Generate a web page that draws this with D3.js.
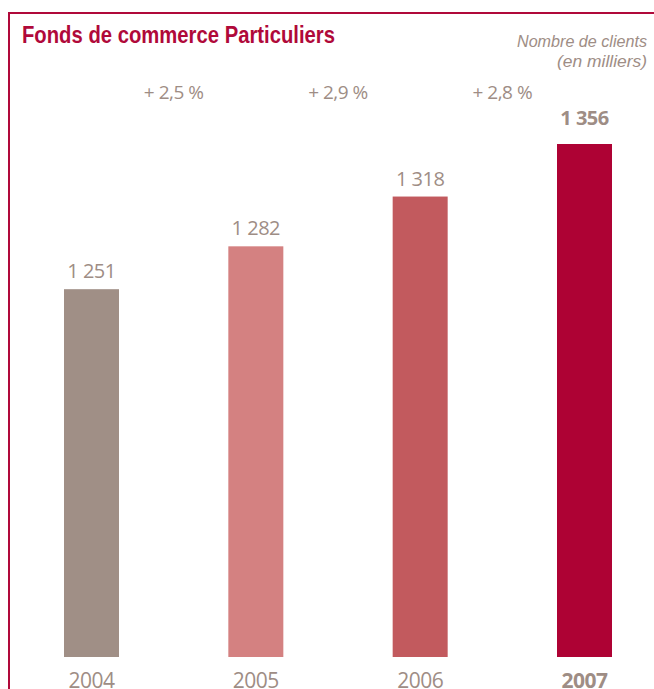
<!DOCTYPE html>
<html>
<head>
<meta charset="utf-8">
<script src="https://cdn.jsdelivr.net/npm/d3@7"></script>
<style>
  html, body { margin: 0; padding: 0; background: #fff; }
  svg { display: block; }
</style>
</head>
<body>
<svg id="chart" width="654" height="689"></svg>
<script>
// Clients (thousands) per year
const years = ["2004", "2005", "2006", "2007"];
const clients = [1251, 1282, 1318, 1356];
const valueLabels = ["1 251", "1 282", "1 318", "1 356"];
const growthLabels = ["+ 2,5 %", "+ 2,9 %", "+ 2,8 %"];
const barColors = ["#a08f86", "#d48181", "#c25a5e", "#ae0234"];

const crimson = "#b0093a";
const taupe = "#9e8d85";

const svg = d3.select("#chart");

// Frame: top and left rules
svg.append("line").attr("x1", 8).attr("x2", 654).attr("y1", 13).attr("y2", 13)
  .attr("stroke", crimson).attr("stroke-width", 2);
svg.append("line").attr("x1", 9).attr("x2", 9).attr("y1", 12).attr("y2", 689)
  .attr("stroke", crimson).attr("stroke-width", 2);

const condFont = "'Liberation Sans', Arial, sans-serif";

// Title (condensed by squeezing the glyphs)
svg.append("text")
  .attr("x", 22).attr("y", 43)
  .attr("font-family", condFont)
  .attr("font-weight", "bold")
  .attr("font-size", 24)
  .attr("textLength", 313)
  .attr("lengthAdjust", "spacingAndGlyphs")
  .attr("fill", crimson)
  .text("Fonds de commerce Particuliers");

// Unit note
const unitLines = [
  { t: "Nombre de clients", y: 47, w: 130 },
  { t: "(en milliers)", y: 67, w: 90 }
];
svg.selectAll("text.unit").data(unitLines).join("text")
  .attr("class", "unit")
  .attr("x", d => 647 - d.w)
  .attr("y", d => d.y)
  .attr("font-family", condFont)
  .attr("font-style", "italic")
  .attr("font-size", 17)
  .attr("textLength", d => d.w)
  .attr("lengthAdjust", "spacingAndGlyphs")
  .attr("fill", taupe)
  .text(d => d.t);

// Scales
const x = d3.scalePoint().domain(years).range([91.5, 584.5]);
const y = d3.scaleLinear().domain([985, 1356]).range([657, 144]);
const barW = 55;
const last = years.length - 1;

const data = years.map((yr, i) => ({ yr, v: clients[i], label: valueLabels[i], color: barColors[i] }));

// Bars
svg.selectAll("rect.bar").data(data).join("rect")
  .attr("class", "bar")
  .attr("x", d => x(d.yr) - barW / 2)
  .attr("width", barW)
  .attr("y", d => y(d.v))
  .attr("height", d => y.range()[0] - y(d.v))
  .attr("fill", d => d.color);

const numFont = "'Open Sans', 'Noto Sans', sans-serif";

// Value labels
svg.selectAll("text.val").data(data).join("text")
  .attr("class", "val")
  .attr("x", d => x(d.yr))
  .attr("y", (d, i) => y(d.v) - (i === last ? 19 : 11))
  .attr("text-anchor", "middle")
  .attr("font-family", numFont)
  .attr("font-size", 20)
  .attr("font-weight", (d, i) => i === last ? 700 : 400)
  .attr("letter-spacing", -0.5)
  .attr("fill", taupe)
  .text(d => d.label);

// Year labels
svg.selectAll("text.yr").data(data).join("text")
  .attr("class", "yr")
  .attr("x", d => x(d.yr))
  .attr("y", 688)
  .attr("text-anchor", "middle")
  .attr("font-family", numFont)
  .attr("font-size", 21)
  .attr("font-weight", (d, i) => i === last ? 700 : 400)
  .attr("letter-spacing", -0.5)
  .attr("fill", taupe)
  .text(d => d.yr);

// Year-on-year growth, between bars
svg.selectAll("text.growth").data(growthLabels).join("text")
  .attr("class", "growth")
  .attr("x", (d, i) => (x(years[i]) + x(years[i + 1])) / 2)
  .attr("y", 99)
  .attr("text-anchor", "middle")
  .attr("font-family", numFont)
  .attr("font-size", 19)
  .attr("font-weight", 400)
  .attr("letter-spacing", -0.5)
  .attr("fill", taupe)
  .text(d => d);
</script>
</body>
</html>
